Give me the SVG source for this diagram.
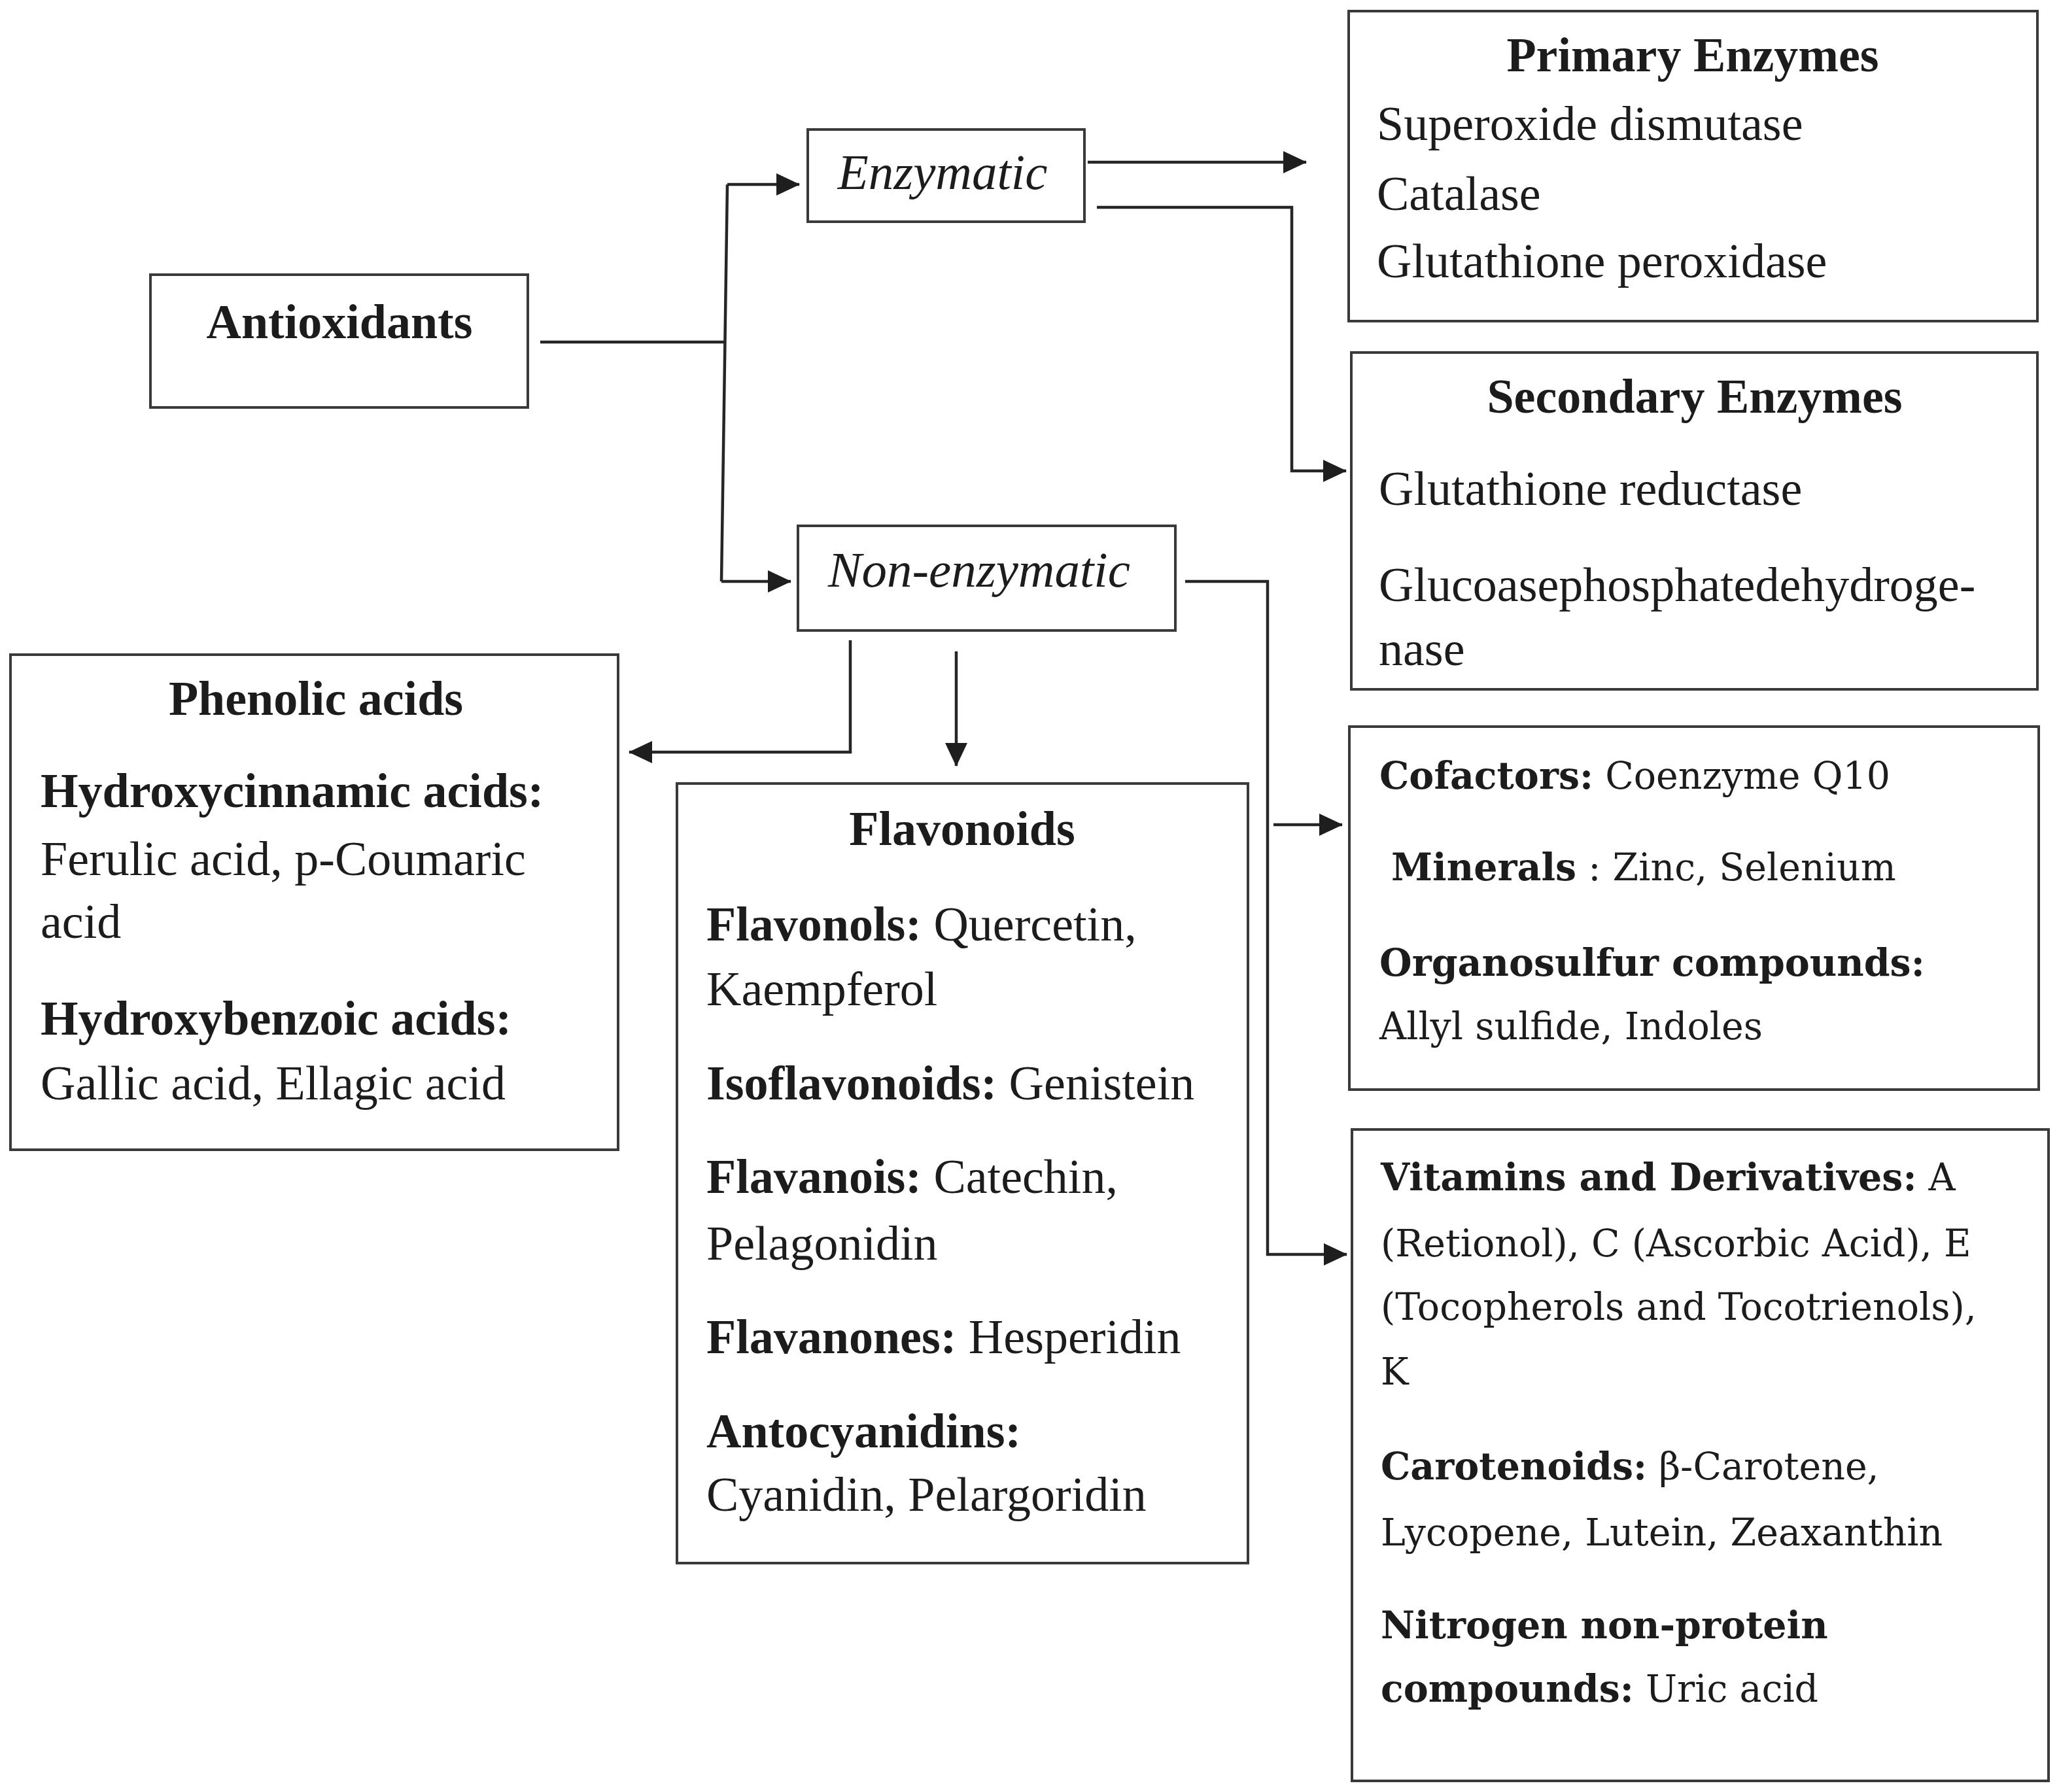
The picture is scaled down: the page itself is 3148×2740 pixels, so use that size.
<svg xmlns="http://www.w3.org/2000/svg" width="3148" height="2740" viewBox="0 0 3148 2740">
<defs>
<marker id="arr" markerUnits="userSpaceOnUse" markerWidth="36" markerHeight="34" refX="35" refY="17" orient="auto">
<path d="M0,0 L36,17 L0,34 Z" fill="#1e1e1e"/>
</marker>
<style>
.box{fill:#ffffff;stroke:#3a3a3a;stroke-width:4}
.con{fill:none;stroke:#262626;stroke-width:4.5}
.t{font-family:"Liberation Serif","Times New Roman",serif;font-size:74px;fill:#1c1c1c}
.tb{font-family:"Liberation Serif","Times New Roman",serif;font-size:74px;font-weight:bold;fill:#1c1c1c}
.ti{font-family:"Liberation Serif","Times New Roman",serif;font-size:77px;font-style:italic;fill:#1c1c1c}
.w{font-family:"DejaVu Serif","Liberation Serif",serif;font-size:57px;fill:#1c1c1c}
.b{font-weight:bold}
.mid{text-anchor:middle}
</style>
</defs>
<rect width="3148" height="2740" fill="#ffffff"/>

<g id="connectors">
<path class="con" d="M826,523 H1108"/>
<path class="con" d="M1112,282 L1103,889"/>
<path class="con" d="M1112,282 H1222" marker-end="url(#arr)"/>
<path class="con" d="M1103,889 H1209" marker-end="url(#arr)"/>
<path class="con" d="M1663,248 H1997" marker-end="url(#arr)"/>
<path class="con" d="M1677,317 H1975 V720 H2058" marker-end="url(#arr)"/>
<path class="con" d="M1812,889 H1938 V1918 H2059" marker-end="url(#arr)"/>
<path class="con" d="M1947,1261 H2052" marker-end="url(#arr)"/>
<path class="con" d="M1300,979 V1150 H962" marker-end="url(#arr)"/>
<path class="con" d="M1462,996 V1171" marker-end="url(#arr)"/>
</g>

<g id="antioxidants">
<rect class="box" x="230" y="420" width="577" height="203"/>
<text class="tb mid" x="519" y="517" font-size="76">Antioxidants</text>
</g>

<g id="enzymatic">
<rect class="box" x="1235" y="198" width="423" height="141"/>
<text class="ti mid" x="1441" y="289">Enzymatic</text>
</g>

<g id="non-enzymatic">
<rect class="box" x="1220" y="804" width="577" height="160"/>
<text class="ti mid" x="1497" y="897">Non-enzymatic</text>
</g>

<g id="primary-enzymes">
<rect class="box" x="2062" y="17" width="1053" height="474"/>
<text class="tb mid" x="2588" y="109" font-size="71">Primary Enzymes</text>
<text class="t" x="2105" y="214">Superoxide dismutase</text>
<text class="t" x="2105" y="321">Catalase</text>
<text class="t" x="2105" y="424">Glutathione peroxidase</text>
</g>

<g id="secondary-enzymes">
<rect class="box" x="2066" y="539" width="1049" height="515"/>
<text class="tb mid" x="2591" y="631" font-size="71">Secondary Enzymes</text>
<text class="t" x="2108" y="772">Glutathione reductase</text>
<text class="t" x="2108" y="919">Glucoasephosphatedehydroge-</text>
<text class="t" x="2108" y="1017">nase</text>
</g>

<g id="phenolic-acids">
<rect class="box" x="16" y="1001" width="929" height="757"/>
<text class="tb mid" x="483" y="1093" font-size="71">Phenolic acids</text>
<text class="tb" x="62" y="1234" font-size="70">Hydroxycinnamic acids:</text>
<text class="t" x="62" y="1338">Ferulic acid, p-Coumaric</text>
<text class="t" x="62" y="1434">acid</text>
<text class="tb" x="62" y="1582" font-size="70">Hydroxybenzoic acids:</text>
<text class="t" x="62" y="1681">Gallic acid, Ellagic acid</text>
</g>

<g id="flavonoids">
<rect class="box" x="1035" y="1198" width="873" height="1192"/>
<text class="tb mid" x="1471" y="1292" font-size="71">Flavonoids</text>
<text class="t" x="1080" y="1438"><tspan class="b">Flavonols:</tspan> Quercetin,</text>
<text class="t" x="1080" y="1537">Kaempferol</text>
<text class="t" x="1080" y="1681"><tspan class="b">Isoflavonoids:</tspan> Genistein</text>
<text class="t" x="1080" y="1824"><tspan class="b">Flavanois:</tspan> Catechin,</text>
<text class="t" x="1080" y="1926">Pelagonidin</text>
<text class="t" x="1080" y="2069"><tspan class="b">Flavanones:</tspan> Hesperidin</text>
<text class="tb" x="1080" y="2213">Antocyanidins:</text>
<text class="t" x="1080" y="2310">Cyanidin, Pelargoridin</text>
</g>

<g id="cofactors">
<rect class="box" x="2063" y="1111" width="1054" height="555"/>
<text class="w" x="2109" y="1206"><tspan class="b">Cofactors:</tspan> Coenzyme Q10</text>
<text class="w" x="2127" y="1346"><tspan class="b">Minerals</tspan> : Zinc, Selenium</text>
<text class="w b" x="2109" y="1492">Organosulfur compounds:</text>
<text class="w" x="2109" y="1589">Allyl sulfide, Indoles</text>
</g>

<g id="vitamins">
<rect class="box" x="2067" y="1727" width="1065" height="996"/>
<text class="w" x="2111" y="1820"><tspan class="b">Vitamins and Derivatives:</tspan> A</text>
<text class="w" x="2111" y="1921">(Retionol), C (Ascorbic Acid), E</text>
<text class="w" x="2111" y="2018">(Tocopherols and Tocotrienols),</text>
<text class="w" x="2111" y="2117">K</text>
<text class="w" x="2111" y="2262"><tspan class="b">Carotenoids:</tspan> β-Carotene,</text>
<text class="w" x="2111" y="2363">Lycopene, Lutein, Zeaxanthin</text>
<text class="w b" x="2111" y="2505">Nitrogen non-protein</text>
<text class="w" x="2111" y="2602"><tspan class="b">compounds:</tspan> Uric acid</text>
</g>
</svg>
